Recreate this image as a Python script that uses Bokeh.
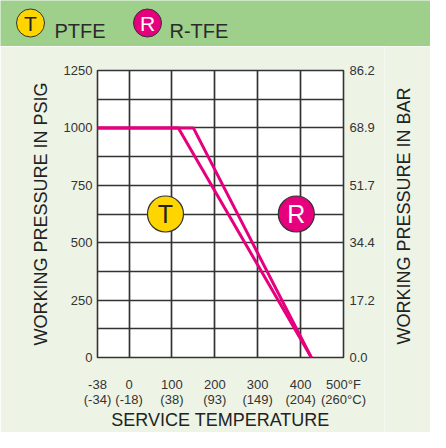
import math
import numpy as np
from bokeh.plotting import figure
from bokeh.models import Range1d, FixedTicker, LinearAxis, ColumnDataSource
from bokeh.layouts import column, row
from bokeh.embed import file_html
from bokeh.resources import INLINE
from bokeh.core.properties import value

FONT = "Liberation Sans"

# ---------------- data ----------------
temp_ticks_f = [-38, 0, 100, 200, 300, 400, 500]
temp_ticks_c = [-34, -18, 38, 93, 149, 204, 260]
psi_ticks = [0, 250, 500, 750, 1000, 1250]
bar_labels = ["0.0", "17.2", "34.4", "51.7", "68.9", "86.2"]

ptfe_temp = [-38, 115, 425]
ptfe_psi = [1000, 1000, 0]
rtfe_temp = [-38, 150, 425]
rtfe_psi = [1000, 1000, 0]

marker_symbols = ["T", "R"]
marker_temp = [85, 390]
marker_psi = [625, 625]

legend_labels = ["PTFE", "R-TFE"]
legend_symbols = ["T", "R"]

# ---------------- styling / layout ----------------
PINK = "#E6007E"
YELLOW = "#FFD500"
DARK = "#333333"
HEADER_GREEN = "#9ecf8b"
BG = "#EDF4E6"

W = 430
HEAD_H = 46
MAIN_H = 386
SIDE_W = 46
MAIN_W = W - SIDE_W

# the first column (-38..0 F) is drawn wider than the others on the original chart
axis_pos = [-73.5, 0, 100, 200, 300, 400, 500]


def tpos(temps):
    return list(np.interp(temps, temp_ticks_f, axis_pos))


# ---------------- header band with legend ----------------
head = figure(width=W, height=HEAD_H, x_range=Range1d(0, W), y_range=Range1d(0, HEAD_H),
              x_axis_type=None, y_axis_type=None, output_backend="svg",
              toolbar_location=None, min_border=0, frame_align=False,
              background_fill_color=HEADER_GREEN, border_fill_color=HEADER_GREEN,
              outline_line_color=None)
head.grid.visible = False

leg_src = ColumnDataSource(dict(cx=[30, 147], cy=[23.5, 23.5], tx=[54, 169], ty=[16, 16],
                                sym=legend_symbols, lab=legend_labels,
                                fill=[YELLOW, PINK], symcol=["#222222", "white"]))
head.scatter(x="cx", y="cy", size=28, fill_color="fill", line_color=DARK, line_width=1,
             source=leg_src)
head.text(x="cx", y="cy", text="sym", text_color="symcol", text_align="center",
          text_baseline="middle", text_font=value(FONT), text_font_size="21px",
          source=leg_src)
head.text(x="tx", y="ty", text="lab", text_color="#2a2a2a", text_align="left",
          text_baseline="alphabetic", text_font=value(FONT), text_font_size="20px",
          source=leg_src)

# ---------------- main chart ----------------
p = figure(width=MAIN_W, height=MAIN_H, x_range=Range1d(axis_pos[0], axis_pos[-1]),
           y_range=Range1d(0, 1250), output_backend="svg", toolbar_location=None,
           min_border_left=97, min_border_right=MAIN_W - 343, min_border_top=24,
           min_border_bottom=71, frame_align=False, background_fill_color="white",
           border_fill_color=BG, outline_line_color=DARK, outline_line_width=1.6)

p.xgrid.ticker = FixedTicker(ticks=axis_pos)
p.ygrid.ticker = FixedTicker(ticks=list(range(0, 1251, 125)))
p.grid.grid_line_color = DARK
p.grid.grid_line_width = 1.7
p.grid.grid_line_alpha = 1.0

xl = {}
for i, (f, c) in enumerate(zip(temp_ticks_f, temp_ticks_c)):
    if i == len(temp_ticks_f) - 1:
        xl[axis_pos[i]] = f"{f}°F\n({c}°C)"
    else:
        xl[axis_pos[i]] = f"{f}\n({c})"
xa = p.xaxis[0]
xa.ticker = FixedTicker(ticks=axis_pos)
xa.major_label_overrides = xl
xa.axis_label = "SERVICE TEMPERATURE"

ya = p.yaxis[0]
ya.ticker = FixedTicker(ticks=psi_ticks)
ya.axis_label = "WORKING PRESSURE IN PSIG"

ra = LinearAxis(ticker=FixedTicker(ticks=psi_ticks),
                major_label_overrides={v: l for v, l in zip(psi_ticks, bar_labels)})
p.add_layout(ra, "right")

for ax in [xa, ya, ra]:
    ax.axis_line_color = None
    ax.major_tick_line_color = None
    ax.minor_tick_line_color = None
    ax.major_tick_out = 0
    ax.major_tick_in = 0
    ax.minor_tick_out = 0
    ax.major_label_text_font = FONT
    ax.major_label_text_font_size = "13px"
    ax.major_label_text_color = DARK
    ax.axis_label_text_font = FONT
    ax.axis_label_text_font_size = "18px"
    ax.axis_label_text_font_style = "normal"
    ax.axis_label_text_color = "#222222"

xa.major_label_text_line_height = 1.0
xa.major_label_standoff = 19
xa.axis_label_standoff = 0
ya.major_label_standoff = 5
ya.axis_label_standoff = 10
ra.major_label_standoff = 6

p.line(x=tpos(ptfe_temp), y=ptfe_psi, line_color=PINK, line_width=3)
p.line(x=tpos(rtfe_temp), y=rtfe_psi, line_color=PINK, line_width=3)

mk = ColumnDataSource(dict(x=tpos(marker_temp), y=marker_psi, sym=marker_symbols,
                           fill=[YELLOW, PINK], symcol=["#222222", "white"]))
p.scatter(x="x", y="y", size=36, fill_color="fill", line_color=DARK, line_width=1.2,
          source=mk)
p.text(x="x", y="y", text="sym", text_color="symcol", text_align="center",
       text_baseline="middle", text_font=value(FONT), text_font_size="25px", source=mk)

# ---------------- right axis title strip ----------------
side = figure(width=SIDE_W, height=MAIN_H, x_range=Range1d(0, SIDE_W),
              y_range=Range1d(0, MAIN_H), x_axis_type=None, y_axis_type=None,
              output_backend="svg", toolbar_location=None, min_border=0,
              frame_align=False, background_fill_color=BG, border_fill_color=BG,
              outline_line_color=None)
side.grid.visible = False
side.text(x=[403 - MAIN_W], y=[MAIN_H - (215.5 - HEAD_H)], text=["WORKING PRESSURE IN BAR"],
          angle=math.pi / 2, text_align="center", text_baseline="middle",
          text_font=value(FONT), text_font_size="18px", text_color="#222222")

layout = column(head, row(p, side, spacing=0), spacing=0)
open("out.html", "w").write(file_html(layout, INLINE))
